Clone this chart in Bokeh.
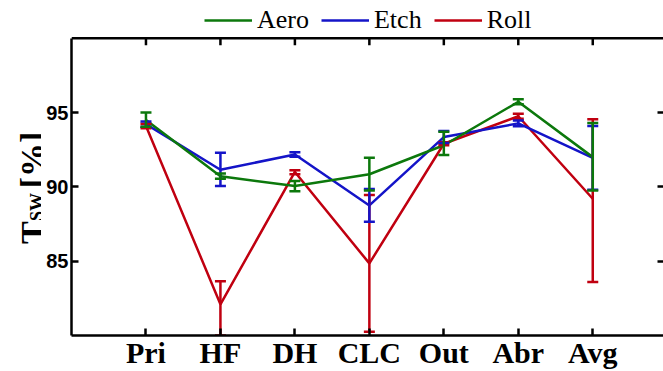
import math
from bokeh.plotting import figure
from bokeh.layouts import row
from bokeh.models import (ColumnDataSource, Whisker, TeeHead, Legend, LegendItem,
                          LinearAxis, FixedTicker, Range1d, Span)
from bokeh.core.properties import value
from bokeh.embed import file_html
from bokeh.resources import INLINE

categories = ["Pri", "HF", "DH", "CLC", "Out", "Abr", "Avg"]
positions = [1, 2, 3, 4, 5, 6, 7]

aero = [94.5, 90.72, 90.05, 90.85, 92.8, 95.72, 92.0]
aero_lo = [94.05, 90.55, 89.7, 89.75, 92.15, 95.55, 89.75]
aero_hi = [95.0, 90.9, 90.4, 91.95, 93.7, 95.9, 94.3]

etch = [94.22, 91.15, 92.18, 88.75, 93.35, 94.27, 91.95]
etch_lo = [94.05, 90.05, 92.03, 87.65, 92.95, 94.07, 89.8]
etch_hi = [94.4, 92.3, 92.32, 89.85, 93.75, 94.47, 94.1]

roll = [94.1, 82.1, 91.0, 84.85, 92.9, 94.75, 89.2]
roll_lo = [93.95, 80.0, 90.85, 80.25, 92.8, 94.58, 83.6]
roll_hi = [94.25, 83.65, 91.12, 89.45, 93.0, 94.92, 94.55]

y_ticks = [85, 90, 95]
y_min, y_max = 80, 100
y_label_parts = ["T", "SW", "[%]"]

GREEN = "#0c780c"
BLUE = "#1414c8"
RED = "#c00010"
LW = 2.5
X_END = 7.95
H = 371
LAB_W = 41
BORDER_TOP = 5
BORDER_BOTTOM = 36
Y_VIEW_TOP = 102.2   # extra room above the box for the legend
TICK_LEN = 0.47      # inward tick length of the top edge, in data units

# ---- y-axis label panel (T_SW [%]), same vertical frame as the main plot ----
lab = figure(width=LAB_W, height=H, output_backend="svg", toolbar_location=None,
             x_range=Range1d(0, LAB_W), y_range=Range1d(y_min, Y_VIEW_TOP),
             min_border_left=0, min_border_right=0,
             min_border_top=BORDER_TOP, min_border_bottom=BORDER_BOTTOM)
lab.axis.visible = False
lab.grid.visible = False
lab.outline_line_color = None
lab_src = ColumnDataSource(dict(x=[32, 36, 32], y=[86.15, 87.7, 89.9], t=y_label_parts,
                                s=["34px", "18px", "34px"]))
lab.text(x="x", y="y", text="t", source=lab_src, angle=math.pi / 2,
         text_font=value("Liberation Serif"), text_font_style="bold",
         text_font_size="s", text_color="black",
         text_baseline="alphabetic", text_align="left")

# ---- main plot ----
p = figure(width=663 - LAB_W, height=H, output_backend="svg", toolbar_location=None,
           x_range=Range1d(0, X_END), y_range=Range1d(y_min, Y_VIEW_TOP),
           min_border_left=71 - LAB_W, min_border_right=0, min_border_top=BORDER_TOP,
           min_border_bottom=BORDER_BOTTOM)
p.outline_line_color = None
p.xgrid.visible = False
p.ygrid.visible = False

def style_axis(ax):
    ax.axis_line_width = LW
    ax.axis_line_color = "black"
    ax.major_tick_line_width = LW
    ax.major_tick_line_color = "black"
    ax.major_tick_in = 7
    ax.major_tick_out = 0
    ax.minor_tick_line_color = None

xa = p.xaxis[0]
style_axis(xa)
xa.ticker = FixedTicker(ticks=positions)
xa.major_label_overrides = {pos: c for pos, c in zip(positions, categories)}
xa.major_label_text_font = "Liberation Serif"
xa.major_label_text_font_style = "bold"
xa.major_label_text_font_size = "30px"
xa.major_label_text_color = "black"
xa.major_label_standoff = 0

ya = p.yaxis[0]
style_axis(ya)
ya.bounds = (y_min, y_max)
ya.ticker = FixedTicker(ticks=y_ticks)
ya.major_label_text_font = "Liberation Sans"
ya.major_label_text_font_style = "bold"
ya.major_label_text_font_size = "20px"
ya.major_label_text_color = "black"
ya.major_label_standoff = 3

ra = LinearAxis(ticker=FixedTicker(ticks=y_ticks), bounds=(y_min, y_max))
style_axis(ra)
ra.axis_line_color = None
ra.major_tick_in = 6
ra.major_label_text_font_size = "0px"
ra.major_label_standoff = 0
p.add_layout(ra, "right")

# top edge of the box with inward ticks
p.add_layout(Span(location=y_max, dimension="width", line_color="black", line_width=LW))
p.segment(x0=positions, y0=[y_max] * len(positions), x1=positions,
          y1=[y_max - TICK_LEN] * len(positions), line_color="black", line_width=LW)

series = [
    ("Roll", roll, roll_lo, roll_hi, RED),
    ("Etch", etch, etch_lo, etch_hi, BLUE),
    ("Aero", aero, aero_lo, aero_hi, GREEN),
]
renderers = {}
for name, vals, lo, hi, col in series:
    src = ColumnDataSource(dict(x=positions, y=vals, lo=lo, hi=hi))
    w = Whisker(source=src, base="x", lower="lo", upper="hi", dimension="height",
                line_color=col, line_width=LW,
                upper_head=TeeHead(size=11, line_color=col, line_width=LW),
                lower_head=TeeHead(size=11, line_color=col, line_width=LW))
    w.level = "glyph"
    p.add_layout(w)
    r = p.line("x", "y", source=src, line_color=col, line_width=LW)
    renderers[name] = r

legend = Legend(items=[LegendItem(label="Aero", renderers=[renderers["Aero"]]),
                       LegendItem(label="Etch", renderers=[renderers["Etch"]]),
                       LegendItem(label="Roll", renderers=[renderers["Roll"]])],
                orientation="horizontal", location=(133, 300))
legend.label_text_font = "Liberation Serif"
legend.label_text_font_size = "26px"
legend.label_text_color = "black"
legend.glyph_width = 48
legend.glyph_height = 20
legend.label_standoff = 5
legend.spacing = 12
legend.padding = 0
legend.margin = 0
legend.border_line_color = None
legend.background_fill_alpha = 0
p.add_layout(legend, "center")

layout = row(lab, p, spacing=0)
open("out.html", "w").write(file_html(layout, INLINE))
